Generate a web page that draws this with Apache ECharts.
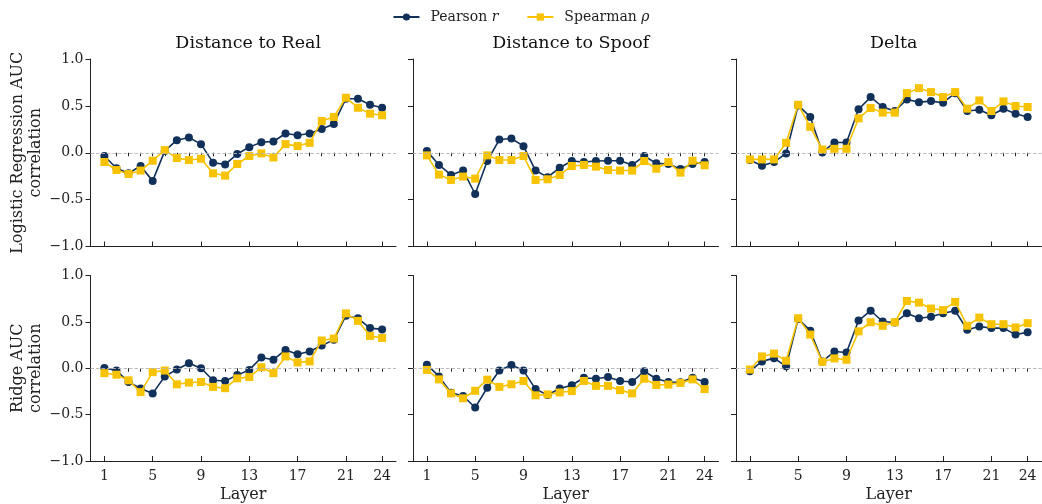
<!DOCTYPE html>
<html>
<head>
<meta charset="utf-8">
<script src="https://cdn.jsdelivr.net/npm/echarts@6/dist/echarts.min.js"></script>
<style>
html,body{margin:0;padding:0;background:#fff;}
#chart{width:1042px;height:504px;}
</style>
</head>
<body>
<div id="chart"></div>
<script>
const layers = [1,2,3,4,5,6,7,8,9,10,11,12,13,14,15,16,17,18,19,20,21,22,23,24];
const xTickLabels = [1,5,9,13,17,21,24];
const yTicks = [-1.0,-0.5,0.0,0.5,1.0];
const columnTitles = ['Distance to Real','Distance to Spoof','Delta'];
const rowLabels = ['Logistic Regression AUC\ncorrelation','Ridge AUC\ncorrelation'];
const seriesNames = ['Pearson r','Spearman ρ'];

// Logistic Regression row
const lrRealPearson  = [-0.035,-0.166,-0.219,-0.141,-0.30,0.02,0.134,0.163,0.092,-0.106,-0.124,-0.014,0.06,0.113,0.12,0.205,0.187,0.205,0.254,0.307,0.576,0.576,0.512,0.48];
const lrRealSpearman = [-0.099,-0.184,-0.226,-0.19,-0.085,0.028,-0.057,-0.078,-0.064,-0.219,-0.244,-0.12,-0.035,-0.007,-0.05,0.092,0.071,0.106,0.339,0.382,0.587,0.48,0.417,0.40];
const lrSpoofPearson  = [0.02,-0.13,-0.237,-0.19,-0.44,-0.088,0.141,0.152,0.07,-0.19,-0.26,-0.16,-0.088,-0.099,-0.088,-0.085,-0.085,-0.13,-0.035,-0.113,-0.12,-0.173,-0.12,-0.099];
const lrSpoofSpearman = [-0.028,-0.233,-0.29,-0.254,-0.276,-0.028,-0.078,-0.078,-0.035,-0.29,-0.283,-0.237,-0.141,-0.13,-0.148,-0.184,-0.19,-0.19,-0.088,-0.17,-0.099,-0.212,-0.085,-0.134];
const lrDeltaPearson  = [-0.078,-0.138,-0.099,-0.007,0.505,0.382,0.004,0.11,0.11,0.463,0.594,0.488,0.445,0.569,0.54,0.551,0.534,0.636,0.445,0.459,0.40,0.47,0.417,0.382];
const lrDeltaSpearman = [-0.071,-0.071,-0.071,0.106,0.512,0.276,0.035,0.042,0.042,0.367,0.477,0.428,0.428,0.636,0.689,0.647,0.594,0.647,0.47,0.558,0.445,0.548,0.498,0.488];

// Ridge row
const rgRealPearson  = [0.004,-0.025,-0.148,-0.218,-0.271,-0.088,-0.014,0.053,0.0,-0.13,-0.137,-0.074,-0.018,0.116,0.092,0.197,0.151,0.18,0.246,0.306,0.567,0.539,0.433,0.419];
const rgRealSpearman = [-0.053,-0.07,-0.13,-0.257,-0.042,-0.025,-0.173,-0.155,-0.148,-0.201,-0.215,-0.109,-0.095,0.011,-0.053,0.127,0.063,0.074,0.299,0.32,0.592,0.511,0.349,0.327];
const rgSpoofPearson  = [0.039,-0.088,-0.264,-0.299,-0.423,-0.211,-0.025,0.035,-0.025,-0.225,-0.289,-0.218,-0.183,-0.102,-0.113,-0.095,-0.137,-0.148,-0.032,-0.113,-0.148,-0.151,-0.102,-0.148];
const rgSpoofSpearman = [-0.018,-0.12,-0.271,-0.324,-0.243,-0.123,-0.201,-0.173,-0.137,-0.292,-0.282,-0.261,-0.246,-0.137,-0.19,-0.19,-0.236,-0.271,-0.113,-0.18,-0.176,-0.158,-0.12,-0.225];
const rgDeltaPearson  = [-0.032,0.074,0.109,0.021,0.532,0.405,0.074,0.18,0.169,0.514,0.62,0.504,0.493,0.592,0.539,0.556,0.592,0.62,0.415,0.451,0.433,0.433,0.363,0.387];
const rgDeltaSpearman = [-0.014,0.127,0.158,0.081,0.539,0.363,0.07,0.106,0.092,0.398,0.496,0.458,0.496,0.725,0.708,0.644,0.627,0.715,0.458,0.546,0.475,0.475,0.44,0.486];

const panels = [
  [lrRealPearson, lrRealSpearman], [lrSpoofPearson, lrSpoofSpearman], [lrDeltaPearson, lrDeltaSpearman],
  [rgRealPearson, rgRealSpearman], [rgSpoofPearson, rgSpoofSpearman], [rgDeltaPearson, rgDeltaSpearman]
];

const NAVY = '#11305a';
const GOLD = '#f7c300';
const AXIS = '#222222';
const FONT = 'DejaVu Serif';

const colLeft = [90.5, 413, 736];
const gridW = 305.5;
const rowTop = [59, 275.5];
const gridH = 187.5;

const grids = [], xAxes = [], yAxes = [], series = [], titles = [];
const pair = (vals) => layers.map((l, i) => [l, vals[i]]);

for (let r = 0; r < 2; r++) {
  for (let c = 0; c < 3; c++) {
    const gi = r * 3 + c;
    grids.push({left: colLeft[c], top: rowTop[r], width: gridW, height: gridH, containLabel: false});
    // major ticks + labels
    xAxes.push({
      type: 'value', gridIndex: gi, min: -0.15, max: 25.15,
      axisLine: {show: true, onZero: false, lineStyle: {color: AXIS, width: 1}},
      axisTick: {show: true, inside: true, length: 5, customValues: xTickLabels, lineStyle: {color: AXIS, width: 1}},
      axisLabel: {show: r === 1, customValues: xTickLabels, margin: 8, color: '#222', fontFamily: FONT, fontSize: 14},
      splitLine: {show: false},
      name: r === 1 ? 'Layer' : '', nameLocation: 'middle', nameGap: 26,
      nameTextStyle: {fontFamily: FONT, fontSize: 16, color: '#222'}
    });
    // minor ticks
    xAxes.push({
      type: 'value', gridIndex: gi, min: -0.15, max: 25.15,
      axisLine: {show: false},
      axisTick: {show: true, inside: true, length: 3.5, customValues: layers, lineStyle: {color: AXIS, width: 1}},
      axisLabel: {show: false},
      splitLine: {show: false}
    });
    yAxes.push({
      type: 'value', gridIndex: gi, min: -1, max: 1, interval: 0.5,
      axisLine: {show: true, onZero: false, lineStyle: {color: AXIS, width: 1}},
      axisTick: {show: true, inside: false, length: 5, lineStyle: {color: AXIS, width: 1}},
      axisLabel: {show: c === 0, margin: 7, color: '#222', fontFamily: FONT, fontSize: 14,
        formatter: v => (v < 0 ? '\u2212' : '') + Math.abs(v).toFixed(1)},
      splitLine: {show: false},
      name: c === 0 ? rowLabels[r] : '', nameLocation: 'middle', nameRotate: 90, nameGap: 46,
      nameTextStyle: {fontFamily: FONT, fontSize: 16, color: '#222', lineHeight: 17.5, align: 'center'}
    });
    const [pv, sv] = panels[gi];
    series.push({
      name: seriesNames[0], type: 'line', xAxisIndex: gi * 2, yAxisIndex: gi,
      data: pair(pv), symbol: 'circle', symbolSize: 8, z: 3,
      lineStyle: {color: NAVY, width: 1.6}, itemStyle: {color: NAVY},
      emphasis: {disabled: true}, animation: false,
      markLine: {silent: true, symbol: 'none', label: {show: false},
        lineStyle: {color: '#b4b4b4', type: [3.5, 2], width: 0.9},
        data: [{yAxis: 0}], animation: false}
    });
    series.push({
      name: seriesNames[1], type: 'line', xAxisIndex: gi * 2, yAxisIndex: gi,
      data: pair(sv), symbol: 'rect', symbolSize: 8, z: 4,
      lineStyle: {color: GOLD, width: 1.6}, itemStyle: {color: GOLD},
      emphasis: {disabled: true}, animation: false
    });
  }
}

for (let c = 0; c < 3; c++) {
  titles.push({
    text: columnTitles[c], left: colLeft[c] + gridW / 2, top: 29, textAlign: 'center',
    textStyle: {fontFamily: FONT, fontSize: 17.5, fontWeight: 'normal', color: '#111'}
  });
}

const chart = echarts.init(document.getElementById('chart'), null, {renderer: 'canvas'});
chart.setOption({
  animation: false,
  backgroundColor: '#fff',
  title: titles,
  legend: {
    top: 5, left: 'center', itemWidth: 26, itemHeight: 9, itemGap: 28,
    lineStyle: {width: 2},
    data: [seriesNames[0], seriesNames[1]],
    formatter: n => n === 'Pearson r' ? '{p|Pearson }{i|r}' : '{p|Spearman }{i|ρ}',
    textStyle: {fontFamily: FONT, fontSize: 14, color: '#222', padding: [0, 0, 0, 6],
      rich: {p: {fontFamily: FONT, fontSize: 14, color: '#222'}, i: {fontFamily: FONT, fontStyle: 'italic', fontSize: 14, color: '#222'}}}
  },
  grid: grids, xAxis: xAxes, yAxis: yAxes, series: series
});
</script>
</body>
</html>
